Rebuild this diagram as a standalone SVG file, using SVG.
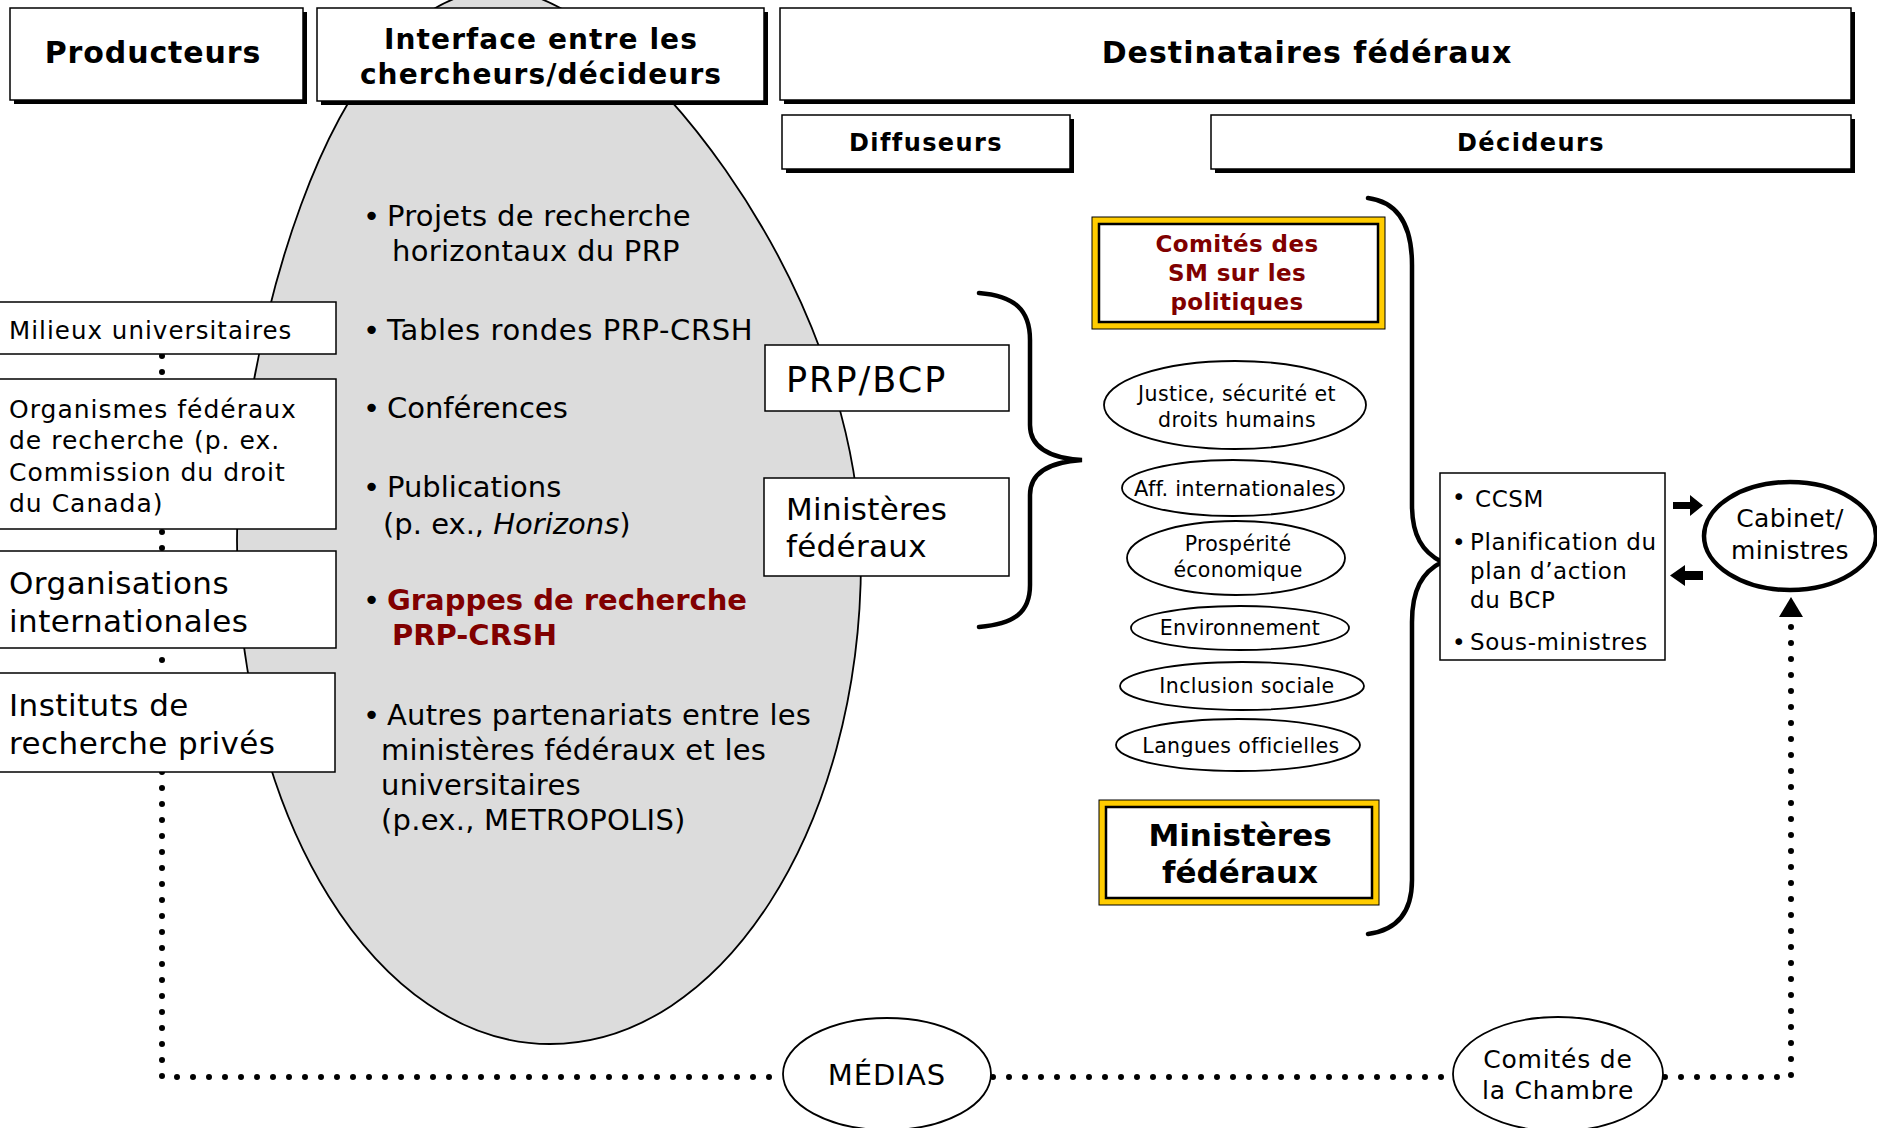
<svg xmlns="http://www.w3.org/2000/svg" width="1877" height="1128" viewBox="0 0 1877 1128">
<style>
.t{font-family:"DejaVu Sans",Verdana,sans-serif;fill:#000}
.b{font-weight:bold}
.red{fill:#800000}
.box{fill:#fff;stroke:#000;stroke-width:1.5}
.shadow{fill:#000}
.dots{fill:none;stroke:#000;stroke-width:6;stroke-linecap:round;stroke-dasharray:0 16}
.brace{fill:none;stroke:#000;stroke-width:4.5;stroke-linecap:round}
.ell{fill:#fff;stroke:#000;stroke-width:1.8}
.yel{fill:#ffcc00;stroke:#000;stroke-width:1}
.yin{fill:#fff;stroke:#000;stroke-width:2.5}
.mid{text-anchor:middle}
</style>
<rect width="1877" height="1128" fill="#fff"/>

<g id="interface-zone">
<path d="M 550 1044 C 377 1044 237 818 237 540 C 237 380 320 -10 500 -10 C 620 -10 861 280 861 560 C 861 827 722 1044 550 1044 Z" fill="#dcdcdc" stroke="#000" stroke-width="1.8"/>
<g class="t" font-size="29">
<text x="363" y="226">•</text><text x="387" y="226" letter-spacing="0.3">Projets de recherche</text>
<text x="392" y="261" letter-spacing="0.3">horizontaux du PRP</text>
<text x="363" y="340">•</text><text x="387" y="340" letter-spacing="0.6">Tables rondes PRP-CRSH</text>
<text x="363" y="418">•</text><text x="387" y="418">Conférences</text>
<text x="363" y="497">•</text><text x="387" y="497">Publications</text>
<text x="383" y="534">(p. ex., <tspan font-style="italic">Horizons</tspan>)</text>
<text x="363" y="610">•</text><text x="387" y="610" class="b red">Grappes de recherche</text>
<text x="392" y="645" class="b red">PRP-CRSH</text>
<text x="363" y="725">•</text><text x="387" y="725" letter-spacing="0.25">Autres partenariats entre les</text>
<text x="381" y="760" letter-spacing="0.25">ministères fédéraux et les</text>
<text x="381" y="795" letter-spacing="0.25">universitaires</text>
<text x="381" y="830" letter-spacing="0.25">(p.ex., METROPOLIS)</text>
</g>
</g>

<g id="connectors">
<path class="dots" d="M 162 356 L 162 1077 L 782 1077"/>
<path class="dots" d="M 993 1077 L 1451 1077"/>
<path class="dots" d="M 1665 1077 L 1791 1077 L 1791 622"/>
<polygon points="1779,617 1803,617 1791,597" fill="#000"/>
<path class="brace" d="M 979 293 C 1015 296 1030 310 1030 340 L 1030 425 C 1030 448 1050 458 1082 460 C 1050 462 1030 472 1030 495 L 1030 585 C 1030 612 1015 624 979 627"/>
<path class="brace" d="M 1368 198 C 1398 202 1412 225 1412 265 L 1412 505 C 1412 535 1422 552 1442 562 C 1422 572 1412 590 1412 622 L 1412 880 C 1412 912 1398 930 1368 934"/>
<polygon points="1673,502 1690,502 1690,495 1703,505.5 1690,516 1690,509 1673,509" fill="#000"/>
<polygon points="1703,571 1685,571 1685,565 1670,575.5 1685,586 1685,580 1703,580" fill="#000"/>
</g>

<g id="producteurs">
<rect class="shadow" x="14" y="12" width="293" height="92"/>
<rect class="box" x="10" y="8" width="293" height="92"/>
<text class="t b mid" x="153" y="63" font-size="30" letter-spacing="0.9">Producteurs</text>
</g>
<g id="interface">
<rect class="shadow" x="321" y="12" width="447" height="93"/>
<rect class="box" x="317" y="8" width="447" height="93"/>
<text class="t b mid" x="541" y="49" font-size="28" letter-spacing="1.1">Interface entre les</text>
<text class="t b mid" x="541" y="84" font-size="28" letter-spacing="1.1">chercheurs/décideurs</text>
</g>
<g id="destinataires">
<rect class="shadow" x="784" y="12" width="1071" height="92"/>
<rect class="box" x="780" y="8" width="1071" height="92"/>
<text class="t b mid" x="1307" y="63" font-size="30" letter-spacing="1">Destinataires fédéraux</text>
</g>
<g id="diffuseurs">
<rect class="shadow" x="786" y="119" width="288" height="54"/>
<rect class="box" x="782" y="115" width="288" height="54"/>
<text class="t b mid" x="926" y="151" font-size="24" letter-spacing="1.4">Diffuseurs</text>
</g>
<g id="decideurs">
<rect class="shadow" x="1215" y="119" width="640" height="54"/>
<rect class="box" x="1211" y="115" width="640" height="54"/>
<text class="t b mid" x="1531" y="151" font-size="24" letter-spacing="1.4">Décideurs</text>
</g>

<g id="milieux">
<rect class="box" x="-5" y="302" width="341" height="52"/>
<text class="t" x="9" y="339" font-size="24.5" letter-spacing="1.05">Milieux universitaires</text>
</g>
<g id="organismes">
<rect class="box" x="-5" y="379" width="341" height="150"/>
<g class="t" font-size="25" letter-spacing="1">
<text x="9" y="418">Organismes fédéraux</text>
<text x="9" y="449">de recherche (p. ex.</text>
<text x="9" y="481">Commission du droit</text>
<text x="9" y="512">du Canada)</text>
</g>
</g>
<g id="organisations">
<rect class="box" x="-5" y="551" width="341" height="97"/>
<text class="t" x="9" y="594" font-size="31" letter-spacing="0.45">Organisations</text>
<text class="t" x="9" y="632" font-size="31" letter-spacing="0.45">internationales</text>
</g>
<g id="instituts">
<rect class="box" x="-5" y="673" width="340" height="99"/>
<text class="t" x="9" y="716" font-size="31" letter-spacing="0.45">Instituts de</text>
<text class="t" x="9" y="754" font-size="31" letter-spacing="0.45">recherche privés</text>
</g>

<g id="prp-bcp">
<rect class="box" x="765" y="345" width="244" height="66"/>
<text class="t" x="786" y="392" font-size="35" letter-spacing="2">PRP/BCP</text>
</g>
<g id="ministeres-diffuseurs">
<rect class="box" x="764" y="478" width="245" height="98"/>
<text class="t" x="786" y="520" font-size="31" letter-spacing="0.3">Ministères</text>
<text class="t" x="786" y="557" font-size="31" letter-spacing="0.3">fédéraux</text>
</g>

<g id="comites-sm">
<rect class="yel" x="1092" y="217" width="293" height="112"/>
<rect class="yin" x="1099" y="224" width="279" height="98"/>
<g class="t b red mid" font-size="23" letter-spacing="0.4">
<text x="1237" y="252">Comités des</text>
<text x="1237" y="281">SM sur les</text>
<text x="1237" y="310">politiques</text>
</g>
</g>
<g id="justice">
<ellipse class="ell" cx="1235" cy="405" rx="131" ry="44"/>
<text class="t mid" x="1237" y="401" font-size="20.5" letter-spacing="0.4">Justice, sécurité et</text>
<text class="t mid" x="1237" y="427" font-size="20.5" letter-spacing="0.4">droits humains</text>
</g>
<g id="aff-int">
<ellipse class="ell" cx="1233" cy="488" rx="111" ry="28"/>
<text class="t mid" x="1235" y="496" font-size="21" letter-spacing="0.2">Aff. internationales</text>
</g>
<g id="prosperite">
<ellipse class="ell" cx="1236" cy="558" rx="109" ry="37"/>
<text class="t mid" x="1238" y="551" font-size="20.5" letter-spacing="0.3">Prospérité</text>
<text class="t mid" x="1238" y="577" font-size="20.5" letter-spacing="0.3">économique</text>
</g>
<g id="environnement">
<ellipse class="ell" cx="1240" cy="628" rx="109" ry="22"/>
<text class="t mid" x="1240" y="635" font-size="20.5" letter-spacing="0.3">Environnement</text>
</g>
<g id="inclusion">
<ellipse class="ell" cx="1242" cy="686" rx="122" ry="24"/>
<text class="t mid" x="1247" y="693" font-size="20.5" letter-spacing="0.4">Inclusion sociale</text>
</g>
<g id="langues">
<ellipse class="ell" cx="1238" cy="745" rx="122" ry="26"/>
<text class="t mid" x="1241" y="753" font-size="20.5" letter-spacing="0.4">Langues officielles</text>
</g>
<g id="ministeres-decideurs">
<rect class="yel" x="1099" y="800" width="280" height="105"/>
<rect class="yin" x="1106" y="807" width="266" height="91"/>
<text class="t b mid" x="1240" y="846" font-size="31">Ministères</text>
<text class="t b mid" x="1240" y="883" font-size="31">fédéraux</text>
</g>

<g id="ccsm">
<rect class="box" x="1440" y="473" width="225" height="187"/>
<g class="t" font-size="23" letter-spacing="0.6">
<text x="1452" y="505">•</text><text x="1475" y="507">CCSM</text>
<text x="1452" y="550">•</text><text x="1470" y="550">Planification du</text>
<text x="1470" y="579">plan d’action</text>
<text x="1470" y="608">du BCP</text>
<text x="1452" y="650">•</text><text x="1470" y="650">Sous-ministres</text>
</g>
</g>
<g id="cabinet">
<ellipse cx="1790" cy="536" rx="86" ry="54" fill="#fff" stroke="#000" stroke-width="4.5"/>
<text class="t mid" x="1790" y="527" font-size="25" letter-spacing="0.3">Cabinet/</text>
<text class="t mid" x="1790" y="559" font-size="25" letter-spacing="0.3">ministres</text>
</g>
<g id="medias">
<ellipse class="ell" cx="887" cy="1074" rx="104" ry="56"/>
<text class="t mid" x="887" y="1085" font-size="29" letter-spacing="1">MÉDIAS</text>
</g>
<g id="comites-chambre">
<ellipse class="ell" cx="1558" cy="1074" rx="105" ry="57"/>
<text class="t mid" x="1558" y="1068" font-size="25" letter-spacing="0.8">Comités de</text>
<text class="t mid" x="1558" y="1099" font-size="25" letter-spacing="0.8">la Chambre</text>
</g>
</svg>
